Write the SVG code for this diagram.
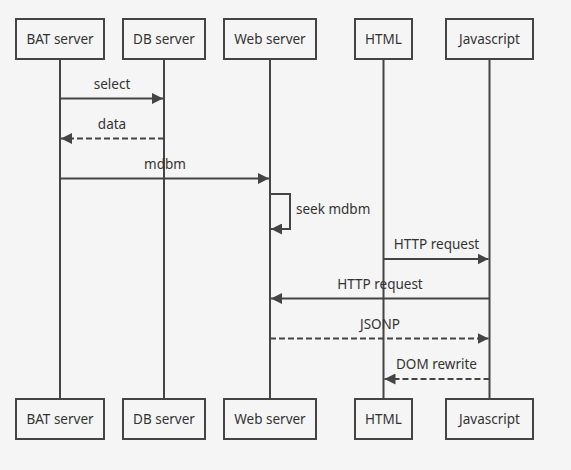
<svg xmlns="http://www.w3.org/2000/svg" width="571" height="470" viewBox="0 0 571 470">
<defs>
<style>
.box{fill:#f5f5f5;stroke:#444;stroke-width:2}
.life{stroke:#444;stroke-width:2;fill:none}
.msg{stroke:#444;stroke-width:2;fill:none}
.dash{stroke-dasharray:6,3}
text{font-family:"Noto Sans","DejaVu Sans",sans-serif;font-size:13.5px;fill:#333}
.c{text-anchor:middle}
</style>
<marker id="ah" viewBox="0 0 10 10" refX="10" refY="5" markerWidth="5.5" markerHeight="5.5" orient="auto" markerUnits="strokeWidth">
<path d="M0,0 L10,5 L0,10 z" fill="#444"/>
</marker>
</defs>
<rect width="571" height="470" fill="#f5f5f5"/>
<g id="lifelines">
<line class="life" x1="60" y1="59" x2="60" y2="399"/>
<line class="life" x1="164" y1="59" x2="164" y2="399"/>
<line class="life" x1="270" y1="59" x2="270" y2="399"/>
<line class="life" x1="383.5" y1="59" x2="383.5" y2="399"/>
<line class="life" x1="489.5" y1="59" x2="489.5" y2="399"/>
</g>
<g id="bat-top"><rect class="box" x="16" y="19" width="88" height="40"/><text class="c" x="60" y="44">BAT server</text></g>
<g id="db-top"><rect class="box" x="123" y="19" width="82" height="40"/><text class="c" x="164" y="44">DB server</text></g>
<g id="web-top"><rect class="box" x="224" y="19" width="92" height="40"/><text class="c" x="270" y="44">Web server</text></g>
<g id="html-top"><rect class="box" x="355" y="19" width="57" height="40"/><text class="c" x="383.5" y="44">HTML</text></g>
<g id="js-top"><rect class="box" x="446" y="19" width="87" height="40"/><text class="c" x="489.5" y="44">Javascript</text></g>
<g id="bat-bottom"><rect class="box" x="16" y="399" width="88" height="40"/><text class="c" x="60" y="424">BAT server</text></g>
<g id="db-bottom"><rect class="box" x="123" y="399" width="82" height="40"/><text class="c" x="164" y="424">DB server</text></g>
<g id="web-bottom"><rect class="box" x="224" y="399" width="92" height="40"/><text class="c" x="270" y="424">Web server</text></g>
<g id="html-bottom"><rect class="box" x="355" y="399" width="57" height="40"/><text class="c" x="383.5" y="424">HTML</text></g>
<g id="js-bottom"><rect class="box" x="446" y="399" width="87" height="40"/><text class="c" x="489.5" y="424">Javascript</text></g>
<g id="connectors">
<line class="msg" x1="60" y1="98.5" x2="163" y2="98.5" marker-end="url(#ah)"/>
<text class="c" x="112" y="89">select</text>
<line class="msg dash" x1="164" y1="138.5" x2="61" y2="138.5" marker-end="url(#ah)"/>
<text class="c" x="112" y="129">data</text>
<line class="msg" x1="60" y1="178.5" x2="269" y2="178.5" marker-end="url(#ah)"/>
<text class="c" x="165" y="169">mdbm</text>
<polyline class="msg" points="270,194 290,194 290,229 271,229" marker-end="url(#ah)"/>
<text x="296" y="214">seek mdbm</text>
<line class="msg" x1="383.5" y1="259" x2="488.5" y2="259" marker-end="url(#ah)"/>
<text class="c" x="436.5" y="249">HTTP request</text>
<line class="msg" x1="489.5" y1="298.5" x2="271" y2="298.5" marker-end="url(#ah)"/>
<text class="c" x="380" y="289">HTTP request</text>
<line class="msg dash" x1="270" y1="338.5" x2="488.5" y2="338.5" marker-end="url(#ah)"/>
<text class="c" x="380" y="329">JSONP</text>
<line class="msg dash" x1="489.5" y1="379" x2="384.5" y2="379" marker-end="url(#ah)"/>
<text class="c" x="436.5" y="369">DOM rewrite</text>
</g>
</svg>
